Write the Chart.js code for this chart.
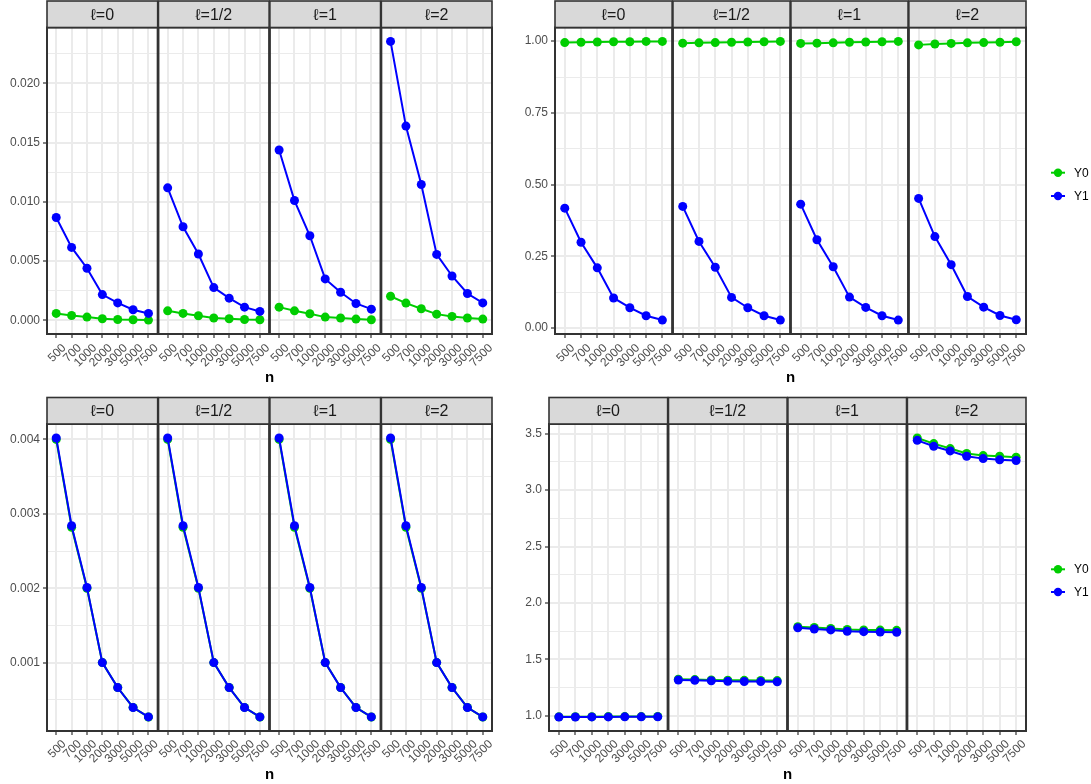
<!DOCTYPE html>
<html>
<head>
<meta charset="utf-8">
<script src="https://cdn.jsdelivr.net/npm/chart.js@4.4.1/dist/chart.umd.min.js"></script>
<style>
  html, body { margin: 0; padding: 0; background: #ffffff; }
  #wrap { position: relative; width: 1091px; height: 784px; overflow: hidden; background: #ffffff; }
  .pane { position: absolute; }
  .pane canvas { display: block; }
</style>
</head>
<body>
<div id="wrap">
  <div class="pane" style="left:0px;top:0px;"><canvas id="cA" width="500" height="390"></canvas></div>
  <div class="pane" style="left:500px;top:0px;"><canvas id="cB" width="591" height="390"></canvas></div>
  <div class="pane" style="left:0px;top:390px;"><canvas id="cC" width="500" height="394"></canvas></div>
  <div class="pane" style="left:500px;top:390px;"><canvas id="cD" width="591" height="394"></canvas></div>
</div>
<script>
// ---- categories, facets, series ----
const N_LABELS = ['500', '700', '1000', '2000', '3000', '5000', '7500'];
const FACETS = ['\u2113=0', '\u2113=1/2', '\u2113=1', '\u2113=2'];
const SERIES = ['Y0', 'Y1'];
const SERIES_COLORS = ['#00CD00', '#0000FF'];

// ---- top-left panel: one row per facet ----
const A_Y0 = [
  [0.00059, 0.00042, 0.00028, 0.00014, 0.00008, 0.00006, 0.00003],
  [0.00081, 0.00059, 0.00039, 0.00020, 0.00014, 0.00008, 0.00006],
  [0.00112, 0.00081, 0.00056, 0.00028, 0.00020, 0.00011, 0.00006],
  [0.00204, 0.00146, 0.00098, 0.00053, 0.00034, 0.00020, 0.00011]
];
const A_Y1 = [
  [0.00868, 0.00616, 0.00440, 0.00218, 0.00148, 0.00090, 0.00059],
  [0.01118, 0.00790, 0.00560, 0.00277, 0.00188, 0.00112, 0.00076],
  [0.01437, 0.01011, 0.00714, 0.00350, 0.00238, 0.00143, 0.00095],
  [0.02353, 0.01639, 0.01146, 0.00557, 0.00375, 0.00227, 0.00148]
];
const A_MAJOR = [0, 0.005, 0.010, 0.015, 0.020];
const A_MINOR = [0.0025, 0.0075, 0.0125, 0.0175, 0.0225];

// ---- top-right panel ----
const B_Y0 = [
  [0.995, 0.996, 0.997, 0.998, 0.998, 0.999, 0.999],
  [0.993, 0.994, 0.995, 0.996, 0.997, 0.998, 0.999],
  [0.992, 0.993, 0.994, 0.996, 0.997, 0.998, 0.999],
  [0.987, 0.990, 0.992, 0.994, 0.995, 0.996, 0.998]
];
const B_Y1 = [
  [0.418, 0.299, 0.210, 0.105, 0.071, 0.043, 0.028],
  [0.424, 0.302, 0.212, 0.107, 0.071, 0.043, 0.028],
  [0.432, 0.308, 0.214, 0.108, 0.072, 0.043, 0.028],
  [0.452, 0.319, 0.221, 0.110, 0.073, 0.044, 0.029]
];
const B_MAJOR = [0, 0.25, 0.50, 0.75, 1.00];
const B_MINOR = [0.125, 0.375, 0.625, 0.875];

// ---- bottom-left panel ----
const C_Y0 = [
  [0.00400, 0.00282, 0.00200, 0.00100, 0.000665, 0.000398, 0.000268],
  [0.00400, 0.00282, 0.00200, 0.00100, 0.000665, 0.000398, 0.000268],
  [0.00400, 0.00282, 0.00200, 0.00100, 0.000665, 0.000398, 0.000268],
  [0.00400, 0.00282, 0.00200, 0.00100, 0.000665, 0.000398, 0.000268]
];
const C_Y1 = [
  [0.00402, 0.00284, 0.00201, 0.00100, 0.000664, 0.000395, 0.000270],
  [0.00402, 0.00284, 0.00201, 0.00100, 0.000664, 0.000395, 0.000270],
  [0.00402, 0.00284, 0.00201, 0.00100, 0.000664, 0.000395, 0.000270],
  [0.00402, 0.00284, 0.00201, 0.00100, 0.000664, 0.000395, 0.000270]
];
const C_MAJOR = [0.001, 0.002, 0.003, 0.004];
const C_MINOR = [0.0005, 0.0015, 0.0025, 0.0035];

// ---- bottom-right panel ----
const D_Y0 = [
  [0.992, 0.993, 0.993, 0.994, 0.994, 0.994, 0.995],
  [1.325, 1.322, 1.319, 1.316, 1.315, 1.314, 1.313],
  [1.790, 1.783, 1.775, 1.765, 1.762, 1.760, 1.758],
  [3.462, 3.412, 3.368, 3.324, 3.306, 3.300, 3.291]
];
const D_Y1 = [
  [0.990, 0.990, 0.991, 0.991, 0.992, 0.992, 0.992],
  [1.318, 1.315, 1.311, 1.306, 1.305, 1.304, 1.303],
  [1.780, 1.770, 1.762, 1.750, 1.746, 1.743, 1.741],
  [3.441, 3.388, 3.347, 3.300, 3.279, 3.268, 3.262]
];
const D_MAJOR = [1.0, 1.5, 2.0, 2.5, 3.0, 3.5];
const D_MINOR = [1.25, 1.75, 2.25, 2.75, 3.25];

// ---- shared styling ----
const FONT = "'Liberation Sans', Arial, Helvetica, sans-serif";
const FACET_STEP = 7.25;   // facet width (7 categories + 0.6 expansion each side) plus a hairline gap
const FACET_SPAN = 7.2;
const X_MAX = (FACETS.length - 1) * FACET_STEP + FACET_SPAN;
const STRIP_H = 26.5;

function catX(f, i) { return f * FACET_STEP + 0.6 + i; }

// strips, panel borders, axis title and (optionally) the legend
const facetPlugin = {
  id: 'facets',
  afterDraw(chart, args, opts) {
    const { ctx, chartArea } = chart;
    const xs = chart.scales.x;
    ctx.save();
    FACETS.forEach((label, f) => {
      const l = xs.getPixelForValue(f * FACET_STEP);
      const r = xs.getPixelForValue(f * FACET_STEP + FACET_SPAN);
      // panel border
      ctx.strokeStyle = '#333333';
      ctx.lineWidth = 2;
      ctx.strokeRect(l, chartArea.top, r - l, chartArea.bottom - chartArea.top);
      // strip
      const st = chartArea.top - STRIP_H;
      ctx.fillStyle = '#D9D9D9';
      ctx.fillRect(l, st, r - l, STRIP_H);
      ctx.lineWidth = 1.6;
      ctx.strokeRect(l, st, r - l, STRIP_H);
      ctx.fillStyle = '#1A1A1A';
      ctx.font = '16px ' + FONT;
      ctx.textAlign = 'center';
      ctx.textBaseline = 'middle';
      ctx.fillText(label, (l + r) / 2, st + STRIP_H / 2 + 1);
    });
    // x axis title
    ctx.fillStyle = '#000000';
    ctx.font = 'bold 15px ' + FONT;
    ctx.textAlign = 'center';
    ctx.textBaseline = 'middle';
    ctx.fillText('n', (chartArea.left + chartArea.right) / 2, chartArea.bottom + 44);
    // legend
    if (opts && opts.legendRows) {
      SERIES.forEach((name, s) => {
        const y = opts.legendRows[s];
        const x0 = opts.legendX;
        ctx.strokeStyle = SERIES_COLORS[s];
        ctx.lineWidth = 2;
        ctx.beginPath();
        ctx.moveTo(x0, y);
        ctx.lineTo(x0 + 14, y);
        ctx.stroke();
        ctx.fillStyle = SERIES_COLORS[s];
        ctx.beginPath();
        ctx.arc(x0 + 7, y, 4.2, 0, Math.PI * 2);
        ctx.fill();
        ctx.fillStyle = '#000000';
        ctx.font = '12px ' + FONT;
        ctx.textAlign = 'left';
        ctx.textBaseline = 'middle';
        ctx.fillText(name, x0 + 23, y + 0.5);
      });
    }
    ctx.restore();
  }
};

function makePanel(id, y0, y1, major, minor, decimals, lay) {
  const all = y0.flat().concat(y1.flat());
  const lo = Math.min(...all), hi = Math.max(...all);
  const pad = (hi - lo) * 0.05;
  const isMajor = v => major.some(m => Math.abs(m - v) < 1e-9);
  const yTicks = major.concat(minor).sort((a, b) => a - b);
  const xTicks = [];
  FACETS.forEach((_, f) => N_LABELS.forEach((__, i) => xTicks.push(catX(f, i))));

  const datasets = [];
  FACETS.forEach((_, f) => {
    [y0, y1].forEach((series, s) => {
      datasets.push({
        label: SERIES[s] + ' ' + FACETS[f],
        data: series[f].map((v, i) => ({ x: catX(f, i), y: v })),
        borderColor: SERIES_COLORS[s],
        backgroundColor: SERIES_COLORS[s],
        pointBackgroundColor: SERIES_COLORS[s],
        pointBorderWidth: 0,
        pointRadius: 4.5,
        borderWidth: 2,
        tension: 0,
        fill: false,
        order: s === 1 ? 1 : 2
      });
    });
  });

  return new Chart(document.getElementById(id), {
    type: 'line',
    data: { datasets },
    options: {
      responsive: false,
      animation: false,
      events: [],
      layout: { padding: { top: lay.top, right: lay.right, bottom: 0, left: 0 } },
      plugins: {
        legend: { display: false },
        tooltip: { enabled: false },
        facets: lay.legend || {}
      },
      scales: {
        x: {
          type: 'linear',
          min: 0,
          max: X_MAX,
          afterBuildTicks: sc => { sc.ticks = xTicks.map(v => ({ value: v })); },
          afterFit: sc => { sc.height = lay.xAxisH; },
          border: { display: false },
          grid: { color: '#EBEBEB', lineWidth: 2, drawTicks: true, tickLength: 4, tickColor: '#333333', tickWidth: 1.2 },
          ticks: {
            autoSkip: false,
            minRotation: 45,
            maxRotation: 45,
            padding: lay.xPad,
            labelOffset: 8,
            color: '#4D4D4D',
            font: { family: FONT, size: 12 },
            callback: (v, i) => N_LABELS[i % N_LABELS.length]
          }
        },
        y: {
          type: 'linear',
          min: lo - pad,
          max: hi + pad,
          afterBuildTicks: sc => { sc.ticks = yTicks.map(v => ({ value: v })); },
          afterFit: sc => { sc.width = lay.axisW; },
          border: { display: false },
          grid: {
            color: '#EBEBEB',
            lineWidth: c => (c.tick && isMajor(c.tick.value)) ? 2 : 1,
            drawTicks: true,
            tickLength: 4,
            tickWidth: 1.2,
            tickColor: c => (c.tick && isMajor(c.tick.value)) ? '#333333' : 'rgba(0,0,0,0)'
          },
          ticks: {
            autoSkip: false,
            padding: 3,
            color: '#4D4D4D',
            font: { family: FONT, size: 12 },
            callback: v => isMajor(v) ? Number(v).toFixed(decimals) : ''
          }
        }
      }
    },
    plugins: [facetPlugin]
  });
}

makePanel('cA', A_Y0, A_Y1, A_MAJOR, A_MINOR, 3,
  { top: 27.5, right: 8, axisW: 47, xAxisH: 56, xPad: 3 });
makePanel('cB', B_Y0, B_Y1, B_MAJOR, B_MINOR, 2,
  { top: 27.5, right: 65, axisW: 55, xAxisH: 56, xPad: 3, legend: { legendX: 551, legendRows: [172.7, 196] } });
makePanel('cC', C_Y0, C_Y1, C_MAJOR, C_MINOR, 3,
  { top: 34, right: 8, axisW: 47, xAxisH: 53, xPad: 2 });
makePanel('cD', D_Y0, D_Y1, D_MAJOR, D_MINOR, 1,
  { top: 34, right: 65, axisW: 49, xAxisH: 53, xPad: 2, legend: { legendX: 551, legendRows: [179.3, 202] } });
</script>
</body>
</html>
